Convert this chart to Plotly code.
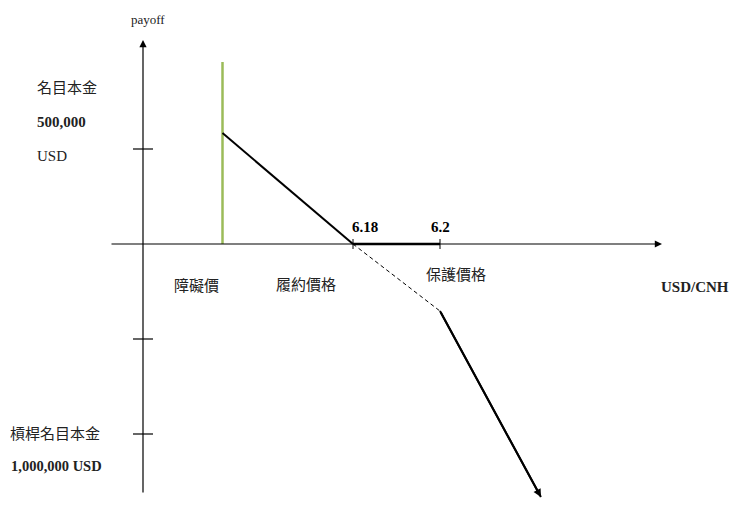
import plotly.graph_objects as go

# schematic payoff of the USD/CNH structure (x = rate, y = payoff in thousand USD)
barrier = 6.15
strike = 6.18
protect = 6.20
rate_ticks = [strike, protect]
rate_tick_labels = ['6.18', '6.2']
payoff_ticks = [500, -500, -1000]

knock_x = [barrier, barrier]
knock_y = [0, 958]
payoff_x = [barrier, strike]
payoff_y = [584, 0]
flat_x = [strike, protect]
flat_y = [0, 0]
dash_x = [strike, protect]
dash_y = [0, -353]
loss_x = [protect, 6.2232]
loss_y = [-353, -1332]

OFF = 8  # page body margin
W, H = 740 - 2 * OFF, 507 - 2 * OFF
px_per_rate = 87 / 0.02
px_per_k = 0.19
x0_px, y0_px = 353 - OFF, 244 - OFF  # pixel of (strike, 0)
x_range = [strike - x0_px / px_per_rate, strike + (W - x0_px) / px_per_rate]
y_range = [-(H - y0_px) / px_per_k, y0_px / px_per_k]
axis_x = strike - (353 - 143) / px_per_rate

FONT = 'Liberation Serif, Times New Roman, Noto Sans CJK TC, serif'

fig = go.Figure()
fig.add_trace(go.Scatter(x=knock_x, y=knock_y, mode='lines',
                         line=dict(color='#9bbb59', width=2.5)))
fig.add_trace(go.Scatter(x=payoff_x, y=payoff_y, mode='lines',
                         line=dict(color='black', width=2)))
fig.add_trace(go.Scatter(x=flat_x, y=flat_y, mode='lines',
                         line=dict(color='black', width=2.5)))
fig.add_trace(go.Scatter(x=dash_x, y=dash_y, mode='lines',
                         line=dict(color='black', width=1, dash='4px,3px')))
fig.add_trace(go.Scatter(x=loss_x, y=loss_y, mode='lines',
                         line=dict(color='black', width=2)))

# axes drawn as arrows
arrows = [
    dict(x=axis_x, y=1074, ax=axis_x, ay=-1316, width=1.2, size=1.2),
    dict(x=strike + 309 / px_per_rate, y=0, ax=strike - 243 / px_per_rate, ay=0, width=1.2, size=1.2),
    dict(x=loss_x[1], y=loss_y[1], ax=loss_x[0], ay=loss_y[0], width=2, size=0.8),
]
for a in arrows:
    fig.add_annotation(x=a['x'], y=a['y'], ax=a['ax'], ay=a['ay'], xref='x', yref='y',
                       axref='x', ayref='y', showarrow=True, arrowhead=2, arrowsize=a['size'],
                       arrowwidth=a['width'], arrowcolor='black', text='')

# tick marks
for t in payoff_ticks:
    fig.add_shape(type='line', x0=axis_x - 10 / px_per_rate, x1=axis_x + 10 / px_per_rate,
                  y0=t, y1=t, line=dict(color='black', width=1.2))
for t, lab in zip(rate_ticks, rate_tick_labels):
    fig.add_shape(type='line', x0=t, x1=t, y0=-5 / px_per_k, y1=5 / px_per_k,
                  line=dict(color='black', width=1))
    fig.add_annotation(x=t, y=7 / px_per_k, text='<b>' + lab + '</b>', showarrow=False,
                       xanchor='left' if lab == '6.18' else 'center', yanchor='bottom',
                       xshift=-3 if lab == '6.18' else 0,
                       font=dict(size=15, family=FONT, color='black'))

labels = [
    ('payoff', 148, 20, 13, 'center'),
    ('名目本金', 35, 88, 15, 'left'),
    ('<b>500,000</b>', 35, 122, 15, 'left'),
    ('USD', 35, 156, 15, 'left'),
    ('障礙價', 196, 285, 15, 'center'),
    ('履約價格', 306, 285, 15, 'center'),
    ('保護價格', 456, 275, 15, 'center'),
    ('<b>USD/CNH</b>', 695, 287, 15, 'center'),
    ('槓桿名目本金', 8, 434, 15, 'left'),
    ('<b>1,000,000 USD</b>', 9, 466, 14.5, 'left'),
]
for text, lx, ly, size, anchor in labels:
    fig.add_annotation(x=(lx - OFF) / W, y=1 - (ly - OFF) / H, xref='paper', yref='paper',
                       text=text, showarrow=False, xanchor=anchor, yanchor='middle',
                       font=dict(size=size, family=FONT, color='#222'))

fig.update_layout(
    width=W, height=H, margin=dict(l=0, r=0, t=0, b=0),
    paper_bgcolor='white', plot_bgcolor='white', showlegend=False,
    xaxis=dict(range=x_range, visible=False),
    yaxis=dict(range=y_range, visible=False),
)

fig.write_html("out.html")
